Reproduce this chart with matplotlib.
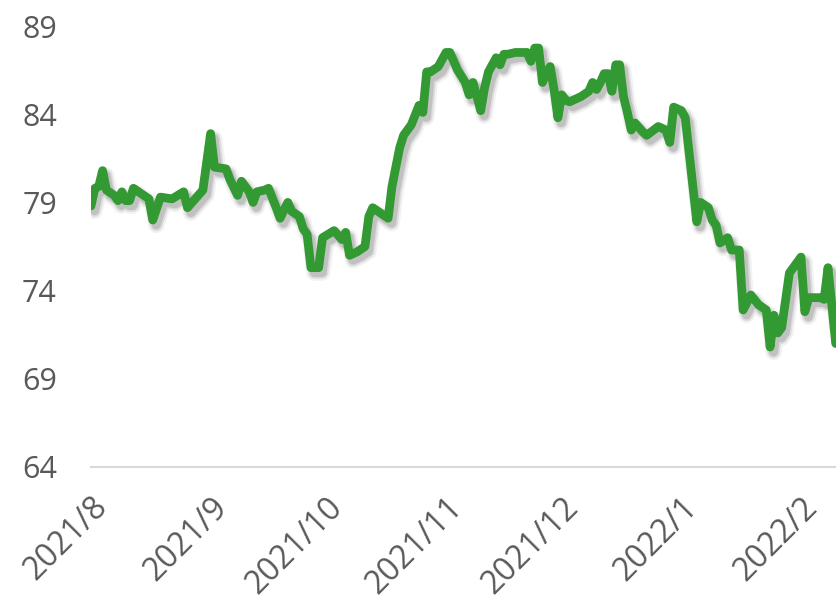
import matplotlib
matplotlib.use("Agg")
import matplotlib.pyplot as plt
import matplotlib.patheffects as pe
import pandas as pd

dates = [
    "2021-08-01", "2021-08-02", "2021-08-03", "2021-08-04", "2021-08-05", "2021-08-07",
    "2021-08-08", "2021-08-09", "2021-08-10", "2021-08-11", "2021-08-12", "2021-08-14",
    "2021-08-16", "2021-08-17", "2021-08-19", "2021-08-22", "2021-08-25", "2021-08-26",
    "2021-08-28", "2021-08-30", "2021-09-01", "2021-09-02", "2021-09-05", "2021-09-06",
    "2021-09-08", "2021-09-09", "2021-09-11", "2021-09-12", "2021-09-13", "2021-09-15",
    "2021-09-16", "2021-09-18", "2021-09-19", "2021-09-21", "2021-09-22", "2021-09-24",
    "2021-09-25", "2021-09-26", "2021-09-27", "2021-09-29", "2021-09-30", "2021-10-03",
    "2021-10-05", "2021-10-06", "2021-10-07", "2021-10-09", "2021-10-11", "2021-10-12",
    "2021-10-13", "2021-10-15", "2021-10-17", "2021-10-18", "2021-10-20", "2021-10-21",
    "2021-10-23", "2021-10-24", "2021-10-25", "2021-10-26", "2021-10-27", "2021-10-28",
    "2021-10-30", "2021-10-31", "2021-11-01", "2021-11-02", "2021-11-04", "2021-11-06",
    "2021-11-07", "2021-11-08", "2021-11-10", "2021-11-11", "2021-11-12", "2021-11-14",
    "2021-11-15", "2021-11-16", "2021-11-17", "2021-11-19", "2021-11-21", "2021-11-22",
    "2021-11-23", "2021-11-24", "2021-11-25", "2021-11-26", "2021-11-27", "2021-11-28",
    "2021-11-29", "2021-11-30", "2021-12-01", "2021-12-02", "2021-12-03", "2021-12-06",
    "2021-12-08", "2021-12-09", "2021-12-10", "2021-12-11", "2021-12-12", "2021-12-13",
    "2021-12-14", "2021-12-15", "2021-12-16", "2021-12-17", "2021-12-18", "2021-12-19",
    "2021-12-20", "2021-12-22", "2021-12-23", "2021-12-26", "2021-12-28", "2021-12-29",
    "2021-12-30", "2022-01-01", "2022-01-02", "2022-01-05", "2022-01-06", "2022-01-08",
    "2022-01-09", "2022-01-10", "2022-01-11", "2022-01-13", "2022-01-14", "2022-01-16",
    "2022-01-17", "2022-01-19", "2022-01-21", "2022-01-23", "2022-01-24", "2022-01-25",
    "2022-01-26", "2022-01-27", "2022-01-29", "2022-02-01", "2022-02-02", "2022-02-03",
    "2022-02-06", "2022-02-07", "2022-02-08", "2022-02-10",
]
values = [
    78.8, 79.8, 79.9, 80.8, 79.7, 79.4,
    79.1, 79.6, 79.1, 79.1, 79.8, 79.5,
    79.2, 78.0, 79.3, 79.2, 79.6, 78.7,
    79.2, 79.7, 82.9, 81.0, 80.9, 80.3,
    79.4, 80.2, 79.6, 79.0, 79.6, 79.7,
    79.8, 78.7, 78.1, 79.0, 78.5, 78.2,
    77.5, 77.2, 75.3, 75.3, 77.0, 77.4,
    76.9, 77.3, 76.0, 76.2, 76.5, 78.2,
    78.7, 78.4, 78.1, 79.9, 82.1, 82.8,
    83.4, 83.95, 84.5, 84.1, 86.4, 86.4,
    86.7, 87.1, 87.5, 87.5, 86.5, 85.8,
    85.1, 85.8, 84.2, 85.5, 86.4, 87.2,
    86.8, 87.4, 87.4, 87.5, 87.5, 87.5,
    87.0, 87.75, 87.75, 85.8, 86.3, 86.7,
    85.4, 83.8, 85.1, 84.8, 84.7, 85.0,
    85.3, 85.8, 85.4, 85.8, 86.3, 86.3,
    85.3, 86.8, 86.8, 85.0, 84.1, 83.1,
    83.5, 83.0, 82.8, 83.3, 83.1, 82.4,
    84.4, 84.2, 83.8, 77.9, 79.0, 78.7,
    78.0, 77.7, 76.7, 77.0, 76.3, 76.3,
    72.9, 73.75, 73.2, 72.9, 70.8, 72.6,
    71.6, 71.9, 75.0, 75.9, 72.8, 73.6,
    73.6, 73.5, 75.3, 71.0,
]
tick_dates = ["2021-08-01", "2021-09-01", "2021-10-01", "2021-11-01",
              "2021-12-01", "2022-01-01", "2022-02-01"]
tick_labels = ["2021/8", "2021/9", "2021/10", "2021/11", "2021/12", "2022/1", "2022/2"]
y_ticks = [64, 69, 74, 79, 84, 89]

x = pd.to_datetime(dates)
plt.rcParams['font.family'] = ['Open Sans', 'DejaVu Sans']

fig = plt.figure(figsize=(8.37, 6.04), dpi=100)
ax = fig.add_axes([91 / 837, 1 - 467 / 604, 1 - 91 / 837, (467 - 26) / 604])

shadow = [
    pe.SimpleLineShadow(offset=(2.5, -3.5), shadow_color='#000000', alpha=0.05, linewidth=12),
    pe.SimpleLineShadow(offset=(2.5, -3.5), shadow_color='#000000', alpha=0.09, linewidth=9),
    pe.SimpleLineShadow(offset=(2.5, -3.5), shadow_color='#000000', alpha=0.12, linewidth=6.5),
    pe.Normal(),
]
ax.plot(x, values, color='#339933', lw=6.3, solid_joinstyle='round',
        solid_capstyle='round', path_effects=shadow, clip_on=True)

ax.set_xlim(pd.Timestamp("2021-08-01"), pd.Timestamp("2022-02-10 08:00"))
ax.set_ylim(64, 89)
ax.set_yticks(y_ticks)
ax.set_yticklabels([str(v) for v in y_ticks])
ax.set_xticks(pd.to_datetime(tick_dates))
ax.set_xticklabels(tick_labels, rotation=45, ha='right', rotation_mode='anchor')

for s in ['top', 'right', 'left']:
    ax.spines[s].set_visible(False)
ax.spines['bottom'].set_color('#d9d9d9')
ax.spines['bottom'].set_linewidth(1.5)
ax.tick_params(axis='both', length=0, labelcolor='#595959')
ax.tick_params(axis='y', labelsize=22, pad=24.5)
ax.tick_params(axis='x', labelsize=23, pad=17)

fig.savefig("out.png", dpi=100)
